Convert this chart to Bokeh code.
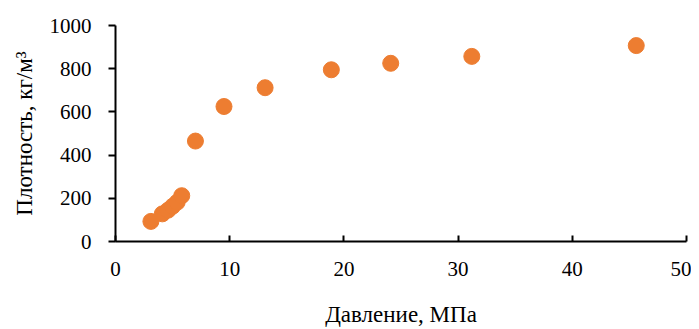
from bokeh.plotting import figure
from bokeh.models import Range1d, FixedTicker
from bokeh.embed import file_html
from bokeh.resources import INLINE

pressure = [3.1, 4.1, 4.6, 5.0, 5.4, 5.8, 7.0, 9.5, 13.1, 18.9, 24.1, 31.2, 45.6]
density = [93, 128, 145, 163, 182, 212, 465, 625, 712, 795, 825, 857, 907]
x_ticks = [0, 10, 20, 30, 40, 50]
y_ticks = [0, 200, 400, 600, 800, 1000]
x_title = "Давление, МПа"
y_title = "Плотность, кг/м³"

FONT = "Liberation Serif"

p = figure(width=691, height=329, output_backend="svg", toolbar_location=None,
           x_range=Range1d(0, 50), y_range=Range1d(0, 1000),
           min_border_left=115, min_border_right=5, min_border_top=25, min_border_bottom=87)
p.outline_line_color = None
p.grid.visible = False
p.background_fill_color = "white"
p.border_fill_color = "white"

p.scatter(pressure, density, size=16, color="#ED7D31", line_color="#ED7D31")

for ax in (p.xaxis[0], p.yaxis[0]):
    ax.axis_line_color = "black"
    ax.axis_line_width = 2
    ax.major_tick_line_color = "black"
    ax.major_tick_line_width = 2
    ax.minor_tick_line_color = None
    ax.major_label_text_font = FONT
    ax.major_label_text_font_size = "21px"
    ax.major_label_text_color = "black"
    ax.axis_label_text_font = FONT
    ax.axis_label_text_font_size = "23px"
    ax.axis_label_text_font_style = "normal"
    ax.axis_label_text_color = "black"

p.xaxis.ticker = FixedTicker(ticks=x_ticks)
p.yaxis.ticker = FixedTicker(ticks=y_ticks)
p.xaxis.major_tick_in = 6
p.xaxis.major_tick_out = 0
p.yaxis.major_tick_in = 0
p.yaxis.major_tick_out = 7
p.xaxis.major_label_standoff = 20
p.yaxis.major_label_standoff = 17
p.xaxis.axis_label = x_title
p.yaxis.axis_label = y_title
p.xaxis.axis_label_standoff = 23
p.yaxis.axis_label_standoff = 10

open("out.html", "w").write(file_html(p, INLINE))
